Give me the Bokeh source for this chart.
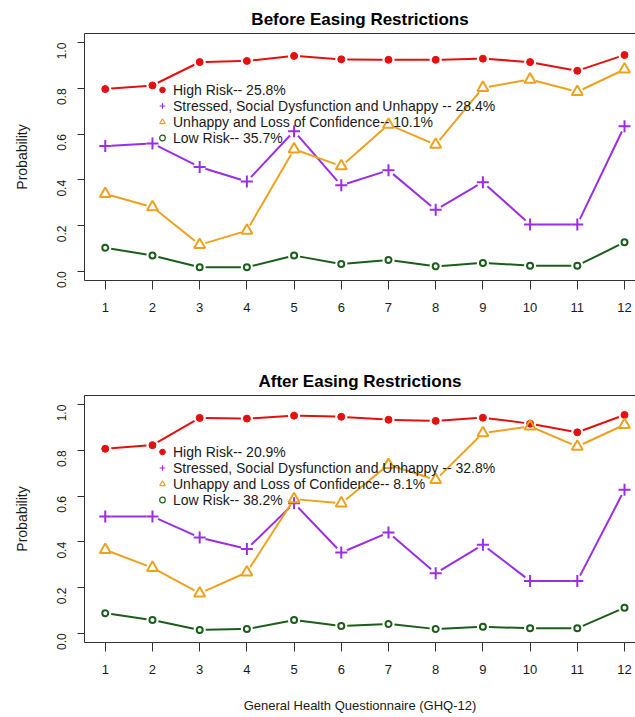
import math
from bokeh.plotting import figure
from bokeh.layouts import column
from bokeh.models import (Legend, LegendItem, LinearAxis, FixedTicker, Range1d,
                          ColumnDataSource, PrintfTickFormatter)
from bokeh.embed import file_html
from bokeh.resources import INLINE

# ---------------- data ----------------
items = list(range(1, 13))
x_ticks = list(range(1, 13))
y_ticks = [0.0, 0.2, 0.4, 0.6, 0.8, 1.0]

before_high = [0.797, 0.813, 0.915, 0.920, 0.942, 0.927, 0.925, 0.925, 0.930, 0.915, 0.877, 0.946]
before_stressed = [0.548, 0.559, 0.456, 0.393, 0.613, 0.376, 0.442, 0.269, 0.390, 0.205, 0.205, 0.635]
before_unhappy = [0.339, 0.281, 0.116, 0.178, 0.534, 0.460, 0.642, 0.554, 0.803, 0.839, 0.785, 0.883]
before_low = [0.103, 0.069, 0.018, 0.018, 0.069, 0.032, 0.050, 0.022, 0.037, 0.025, 0.025, 0.127]

after_high = [0.807, 0.823, 0.942, 0.939, 0.952, 0.947, 0.934, 0.929, 0.943, 0.917, 0.879, 0.955]
after_stressed = [0.511, 0.511, 0.419, 0.369, 0.569, 0.353, 0.441, 0.263, 0.387, 0.229, 0.229, 0.628]
after_unhappy = [0.365, 0.287, 0.175, 0.267, 0.587, 0.569, 0.737, 0.671, 0.876, 0.905, 0.817, 0.912]
after_low = [0.088, 0.058, 0.015, 0.019, 0.058, 0.032, 0.041, 0.019, 0.029, 0.022, 0.022, 0.112]

before_labels = ["High Risk-- 25.8%",
                 "Stressed, Social Dysfunction and Unhappy -- 28.4%",
                 "Unhappy and Loss of Confidence-- 10.1%",
                 "Low Risk-- 35.7%"]
after_labels = ["High Risk-- 20.9%",
                "Stressed, Social Dysfunction and Unhappy -- 32.8%",
                "Unhappy and Loss of Confidence-- 8.1%",
                "Low Risk-- 38.2%"]

titles = ["Before Easing Restrictions", "After Easing Restrictions"]
x_label = "General Health Questionnaire (GHQ-12)"
y_label = "Probability"

# ---------------- style ----------------
FONT = "Liberation Sans"
RED = "#e41010"
PURPLE = "#9a2ee6"
ORANGE = "#eca21e"
GREEN = "#1b5e1b"
BOX = "#333333"
TXT = "#1a1a1a"

X0, X1 = 0.56, 12.233
Y0, Y1 = -0.04, 1.04
W = 635
LEFT = 84
FRAME_W = W - LEFT

styles = [
    dict(color=RED, marker="circle", size=7, fill=True, lw=1),
    dict(color=PURPLE, marker="cross", size=12, fill=False, lw=2),
    dict(color=ORANGE, marker="triangle", size=11, fill=False, lw=2),
    dict(color=GREEN, marker="circle", size=6, fill=False, lw=2),
]
legend_styles = [
    dict(size=6, lw=1),
    dict(size=10, lw=1.2),
    dict(size=10, lw=1.2),
    dict(size=6, lw=1.2),
]


def gapped_segments(xs, ys, sx, sy, gap=6.0):
    x0s, y0s, x1s, y1s = [], [], [], []
    for i in range(len(xs) - 1):
        dx = (xs[i + 1] - xs[i]) * sx
        dy = (ys[i + 1] - ys[i]) * sy
        L = math.hypot(dx, dy)
        if L <= 2 * gap:
            continue
        f = gap / L
        x0s.append(xs[i] + f * (xs[i + 1] - xs[i]))
        y0s.append(ys[i] + f * (ys[i + 1] - ys[i]))
        x1s.append(xs[i + 1] - f * (xs[i + 1] - xs[i]))
        y1s.append(ys[i + 1] - f * (ys[i + 1] - ys[i]))
    return dict(x0=x0s, y0=y0s, x1=x1s, y1=y1s)


def make_panel(title, series, labels, height, top, bottom, show_xlabel):
    frame_h = height - top - bottom
    p = figure(width=W, height=height, output_backend="svg", toolbar_location=None,
               x_range=Range1d(X0, X1), y_range=Range1d(Y0, Y1),
               min_border_left=LEFT, min_border_right=0,
               min_border_top=top, min_border_bottom=bottom,
               background_fill_color="white", border_fill_color="white")
    p.outline_line_color = None
    p.xgrid.visible = False
    p.ygrid.visible = False

    p.title.text = title
    p.title.text_font = FONT
    p.title.text_font_size = "17px"
    p.title.text_font_style = "bold"
    p.title.text_color = "#000000"
    p.title.align = "center"
    p.title.offset = 4
    p.title.standoff = 10

    # axes
    for ax in p.xaxis:
        ax.ticker = FixedTicker(ticks=x_ticks)
        ax.major_tick_out = 9
        ax.major_tick_in = 0
        ax.minor_tick_line_color = None
        ax.axis_line_color = BOX
        ax.major_tick_line_color = BOX
        ax.major_label_text_font = FONT
        ax.major_label_text_font_size = "13px"
        ax.major_label_text_color = TXT
        ax.major_label_standoff = 13
        if show_xlabel:
            ax.axis_label = x_label
            ax.axis_label_text_font = FONT
            ax.axis_label_text_font_size = "13px"
            ax.axis_label_text_font_style = "normal"
            ax.axis_label_text_color = TXT
            ax.axis_label_standoff = 21
    for ax in p.yaxis:
        ax.ticker = FixedTicker(ticks=y_ticks)
        ax.formatter = PrintfTickFormatter(format="%.1f")
        ax.major_label_orientation = math.pi / 2
        ax.major_tick_out = 7
        ax.major_tick_in = 0
        ax.minor_tick_line_color = None
        ax.axis_line_color = BOX
        ax.major_tick_line_color = BOX
        ax.major_label_text_font = FONT
        ax.major_label_text_font_size = "12px"
        ax.major_label_text_color = TXT
        ax.major_label_standoff = 16
        ax.axis_label = y_label
        ax.axis_label_text_font = FONT
        ax.axis_label_text_font_size = "14px"
        ax.axis_label_text_font_style = "normal"
        ax.axis_label_text_color = TXT
        ax.axis_label_standoff = 20

    top_axis = LinearAxis(ticker=FixedTicker(ticks=[]), axis_line_color=BOX,
                          major_tick_line_color=None, minor_tick_line_color=None,
                          major_label_text_font_size="0px", major_label_standoff=0)
    p.add_layout(top_axis, "above")

    sx = FRAME_W / (X1 - X0)
    sy = frame_h / (Y1 - Y0)

    legend_items = []
    for ys, st, lst, lab in zip(series, styles, legend_styles, labels):
        seg = ColumnDataSource(gapped_segments(items, ys, sx, sy))
        p.segment(x0="x0", y0="y0", x1="x1", y1="y1", source=seg,
                  line_color=st["color"], line_width=2)
        fill = st["color"] if st["fill"] else None
        p.scatter(items, ys, marker=st["marker"], size=st["size"],
                  line_color=st["color"], fill_color=fill, line_width=st["lw"])
        # legend-only glyph (not drawn in the plot area)
        r = p.scatter([float("nan")], [float("nan")], marker=st["marker"], size=lst["size"],
                      line_color=st["color"], fill_color=fill, line_width=lst["lw"])
        legend_items.append(LegendItem(label=lab, renderers=[r]))

    row_h = 15
    top_off = 60
    legend = Legend(items=legend_items,
                    location=(71, frame_h - (top_off - row_h / 2) - 4 * row_h),
                    background_fill_alpha=0, border_line_alpha=0,
                    label_text_font=FONT, label_text_font_size="14px",
                    label_text_color=TXT,
                    glyph_width=14, glyph_height=row_h, label_height=row_h,
                    label_text_line_height=1.0,
                    spacing=0, padding=0, margin=0, label_standoff=4)
    p.add_layout(legend)
    return p


p1 = make_panel(titles[0], [before_high, before_stressed, before_unhappy, before_low],
                before_labels, 340, 33, 60, False)
p2 = make_panel(titles[1], [after_high, after_stressed, after_unhappy, after_low],
                after_labels, 377, 55, 75, True)

layout = column(p1, p2, spacing=0)
open("out.html", "w").write(file_html(layout, INLINE))
